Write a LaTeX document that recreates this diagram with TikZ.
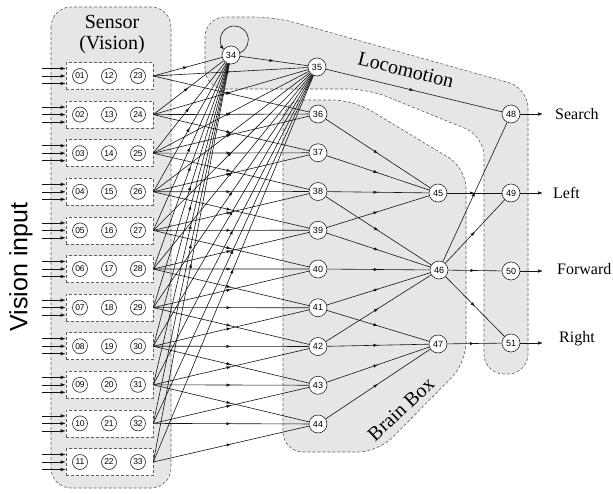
\documentclass[tikz,border=0pt]{standalone}
\usepackage{fontspec}
\setmainfont{Liberation Serif}
\newfontfamily\numfont{Liberation Sans}
\usetikzlibrary{arrows.meta,decorations.markings}
\definecolor{regionfill}{RGB}{230,230,230}
\definecolor{regionline}{RGB}{95,95,95}
\definecolor{edgecol}{RGB}{20,20,20}
\begin{document}
\begin{tikzpicture}[x=1pt,y=1pt,
  region/.style={fill=regionfill, draw=regionline, dash pattern=on 3pt off 2pt, line width=0.6pt, rounded corners=20pt},
  subbox/.style={draw=regionline, fill=white, dash pattern=on 3pt off 2pt, line width=0.6pt, minimum width=87pt, minimum height=27pt, inner sep=0pt},
  snode/.style={circle, draw=black!85, fill=white, line width=0.6pt, minimum size=15pt, inner sep=0pt, font=\numfont\fontsize{8.5}{9}\selectfont},
  neuron/.style={circle, draw=black!85, fill=white, line width=0.6pt, minimum size=18pt, inner sep=0pt, font=\numfont\fontsize{9}{10}\selectfont},
  link/.style={draw=edgecol, line width=0.6pt, postaction={decorate}, decoration={markings, mark=at position 0.5 with {\arrow{Latex[length=4.5pt,width=3.2pt]}}}},
  tiparrow/.style={draw=edgecol, line width=0.6pt, -{Latex[length=5pt,width=3.5pt]}},
  lbl/.style={font=\fontsize{20}{22}\selectfont},
  outlbl/.style={font=\fontsize{16}{18}\selectfont, anchor=west, inner sep=0pt},
]
\useasboundingbox (0,0) rectangle (613,-493);

% regions
\path[region] (51,-7) rectangle (171,-488);
\path[region] (205,-89) -- (205,-17) -- (275,-17) -- (528,-88) -- (528,-374) -- (484,-374) -- (484,-136) -- (368,-89) -- cycle;
\path[region] (283,-100) -- (353,-100) -- (466,-168) -- (466,-363) -- (378,-452) -- (283,-452) -- cycle;

% labels
\node[lbl] (sensorlbl) at (112,-22) {Sensor};
\node[lbl] (visionlbl) at (112,-45) {(Vision)};
\node[lbl, rotate=-14] (locolbl) at (406,-70) {Locomotion};
\node[lbl, rotate=43] (brainlbl) at (401,-409) {Brain Box};
\node[font=\numfont\fontsize{25}{28}\selectfont, rotate=90] (vislbl) at (21,-267) {Vision input};

% sensor rows
\foreach \r in {0,...,10} {
  \pgfmathsetmacro\yy{-(76+38.6*\r)}
  \pgfmathtruncatemacro\ka{\r+1}
  \pgfmathtruncatemacro\kb{\r+12}
  \pgfmathtruncatemacro\kc{\r+23}
  \node[subbox] (box\r) at (109.5,\yy) {};
  \node[snode] (s\ka) at (80,\yy) {\ifnum\ka<10 0\fi\ka};
  \node[snode] (s\kb) at (109,\yy) {\kb};
  \node[snode] (s\kc) at (138,\yy) {\kc};
  \coordinate (ia\r) at (42,\yy+7.5);
  \coordinate (ib\r) at (42,\yy);
  \coordinate (ic\r) at (42,\yy-7.5);
  \foreach \p in {ia,ib,ic} \draw[tiparrow] (\p\r) -- (\p\r -| box\r.west);
}

% neurons
\node[neuron] (n34) at (231,-55) {34};
\node[neuron] (n35) at (317,-67) {35};
\foreach \j in {36,...,44} {
  \pgfmathsetmacro\yy{-(114+38.75*(\j-36))}
  \node[neuron] (n\j) at (318,\yy) {\j};
}
\node[neuron] (n45) at (438,-193) {45};
\node[neuron] (n46) at (439,-270) {46};
\node[neuron] (n47) at (438,-344) {47};
\node[neuron] (n48) at (511,-114) {48};
\node[neuron] (n49) at (511,-193) {49};
\node[neuron] (n50) at (511,-271) {50};
\node[neuron] (n51) at (511,-343) {51};

% sensor -> 34, 35 and brain layer
\foreach \r in {0,...,10} {
  \draw[link] (box\r.east) -- (n34);
  \draw[link] (box\r.east) -- (n35);
  \foreach \d in {-1,0,1} {
    \pgfmathtruncatemacro\jj{\r+\d}
    \ifnum\jj>0 \ifnum\jj<10
      \pgfmathtruncatemacro\m{35+\jj}
      \draw[link] (box\r.east) -- (n\m);
    \fi\fi
  }
}

% self loop and 34 -> 35
\draw[draw=edgecol, line width=0.6pt, -{Latex[length=4.5pt,width=3.2pt]}] (n34.14) arc[start angle=-66, end angle=223, radius=14];
\draw[link] (n34) -- (n35);

% brain layer
\foreach \a in {36,37,38,39} \draw[link] (n\a) -- (n45);
\foreach \a in {38,39,40,41,42} \draw[link] (n\a) -- (n46);
\foreach \a in {41,42,43,44} \draw[link] (n\a) -- (n47);

% locomotion outputs
\draw[link] (n35) -- (n48);
\draw[link] (n45) -- (n49);
\foreach \b in {48,49,50,51} \draw[link] (n46) -- (n\b);
\draw[link] (n47) -- (n51);

% outputs
\node[outlbl] (osearch) at (555,-114) {Search};
\node[outlbl] (oleft) at (553,-193) {Left};
\node[outlbl] (oforward) at (557,-269) {Forward};
\node[outlbl] (oright) at (559,-339) {Right};
\coordinate (t48) at (543,-114);
\coordinate (t49) at (543,-193);
\coordinate (t50) at (543,-271);
\coordinate (t51) at (543,-343);
\foreach \b in {48,49,50,51} \draw[tiparrow] (n\b) -- (t\b);
\end{tikzpicture}
\end{document}
